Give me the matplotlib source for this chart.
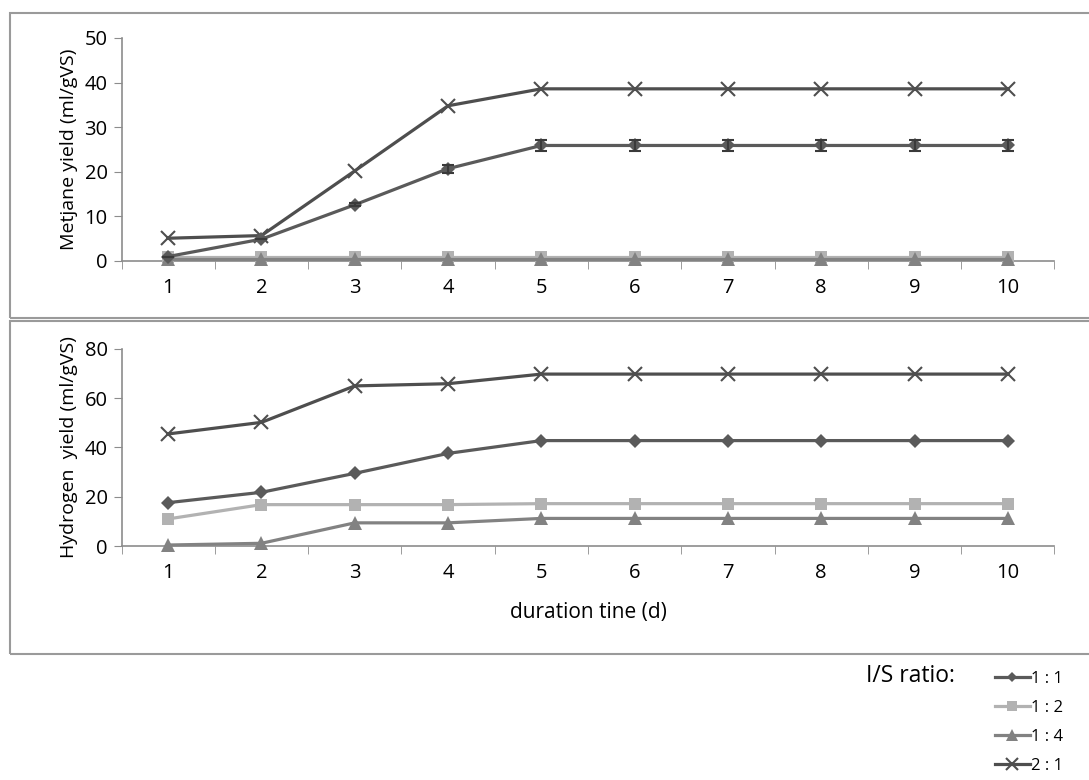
import matplotlib.pyplot as plt
from matplotlib.patches import Rectangle
from matplotlib.lines import Line2D

plt.rcParams['font.family'] = ['Open Sans', 'DejaVu Sans']

days = [1, 2, 3, 4, 5, 6, 7, 8, 9, 10]
ratios = ['1 : 1', '1 : 2', '1 : 4', '2 : 1']

# metjane yield (ml/gVS)
ch4_11 = [1.0, 4.9, 12.6, 20.7, 25.9, 25.9, 25.9, 25.9, 25.9, 25.9]
ch4_11_err = [0, 0, 0.3, 0.9, 1.3, 1.3, 1.3, 1.3, 1.3, 1.3]
ch4_12 = [1.0, 1.0, 1.0, 1.0, 1.0, 1.0, 1.0, 1.0, 1.0, 1.0]
ch4_14 = [0.4, 0.4, 0.4, 0.4, 0.4, 0.4, 0.4, 0.4, 0.4, 0.4]
ch4_21 = [5.1, 5.7, 20.2, 34.8, 38.6, 38.6, 38.6, 38.6, 38.6, 38.6]

# hydrogen yield (ml/gVS)
h2_11 = [17.6, 21.8, 29.5, 37.6, 42.8, 42.8, 42.8, 42.8, 42.8, 42.8]
h2_12 = [11.0, 16.8, 16.8, 16.8, 17.2, 17.2, 17.2, 17.2, 17.2, 17.2]
h2_14 = [0.4, 1.1, 9.4, 9.4, 11.2, 11.2, 11.2, 11.2, 11.2, 11.2]
h2_21 = [45.5, 50.2, 65.0, 65.9, 69.8, 69.8, 69.8, 69.8, 69.8, 69.8]

colores = ['#5a5a5a', '#b2b2b2', '#828282', '#4e4e4e']
marcadores = ['D', 's', '^', 'x']
tam = [7, 9, 10, 10]
eje_color = '#8c8c8c'

fig = plt.figure(figsize=(10.89, 7.8), dpi=100)

# marcos de los paneles
fig.patches.append(Rectangle((10/1089, 1-318/780), 1.0, (318-13)/780,
                             transform=fig.transFigure, fill=False,
                             edgecolor='#9a9a9a', linewidth=1.5))
fig.patches.append(Rectangle((10/1089, 1-654/780), 1.0, (654-321)/780,
                             transform=fig.transFigure, fill=False,
                             edgecolor='#9a9a9a', linewidth=1.5))

ax1 = fig.add_axes([0.1116, 0.6654, 0.8567, 0.2859])
ax2 = fig.add_axes([0.1116, 0.3000, 0.8567, 0.2526])


def dibujar(ax, series, ymax, paso, ylabel):
    for i, ys in enumerate(series):
        mw = 1.5 if marcadores[i] == 'x' else 0
        ax.plot(days, ys, color=colores[i], linewidth=2.3,
                marker=marcadores[i], markersize=tam[i],
                markeredgewidth=mw, markeredgecolor=colores[i],
                label=ratios[i], zorder=3 + (i == 0), clip_on=False)
    ax.set_xlim(0.5, 10.5)
    ax.set_ylim(0, ymax)
    ax.set_yticks(range(0, ymax + 1, paso))
    ax.set_xticks(days)
    ax.set_xticks([d - 0.5 for d in days] + [10.5], minor=True)
    ax.tick_params(axis='x', which='major', length=0, pad=12, labelsize=14.5)
    ax.tick_params(axis='x', which='minor', length=6, color=eje_color,
                   direction='out')
    ax.tick_params(axis='y', length=6, color=eje_color, labelsize=14.5, pad=4)
    for s in ['top', 'right']:
        ax.spines[s].set_visible(False)
    for s in ['left', 'bottom']:
        ax.spines[s].set_color(eje_color)
        ax.spines[s].set_linewidth(1.2)
    ax.set_ylabel(ylabel, fontsize=14, labelpad=5)


dibujar(ax1, [ch4_11, ch4_12, ch4_14, ch4_21], 50, 10, 'Metjane yield (ml/gVS)')
ax1.errorbar(days, ch4_11, yerr=ch4_11_err, fmt='none', ecolor='#3a3a3a',
             elinewidth=1.5, capsize=4, capthick=1.5, zorder=5)

dibujar(ax2, [h2_11, h2_12, h2_14, h2_21], 80, 20, 'Hydrogen  yield (ml/gVS)')
ax2.set_xlabel('duration tine (d)', fontsize=15, labelpad=14)

# leyenda
fig.text(955/1089, 1-676/780, 'I/S ratio:', fontsize=16.5, ha='right', va='center')
handles = [Line2D([0], [0], color=colores[i], linewidth=2.3,
                  marker=marcadores[i], markersize=tam[i] * 0.8,
                  markeredgewidth=1.5 if marcadores[i] == 'x' else 0,
                  markeredgecolor=colores[i])
           for i in range(4)]
fig.legend(handles, ratios, loc='upper left',
           bbox_to_anchor=(988/1089, 1-664/780), frameon=False,
           fontsize=12, handlelength=2.1, handletextpad=0.1,
           labelspacing=0.78, borderaxespad=0)

fig.savefig('out.png', dpi=100)
